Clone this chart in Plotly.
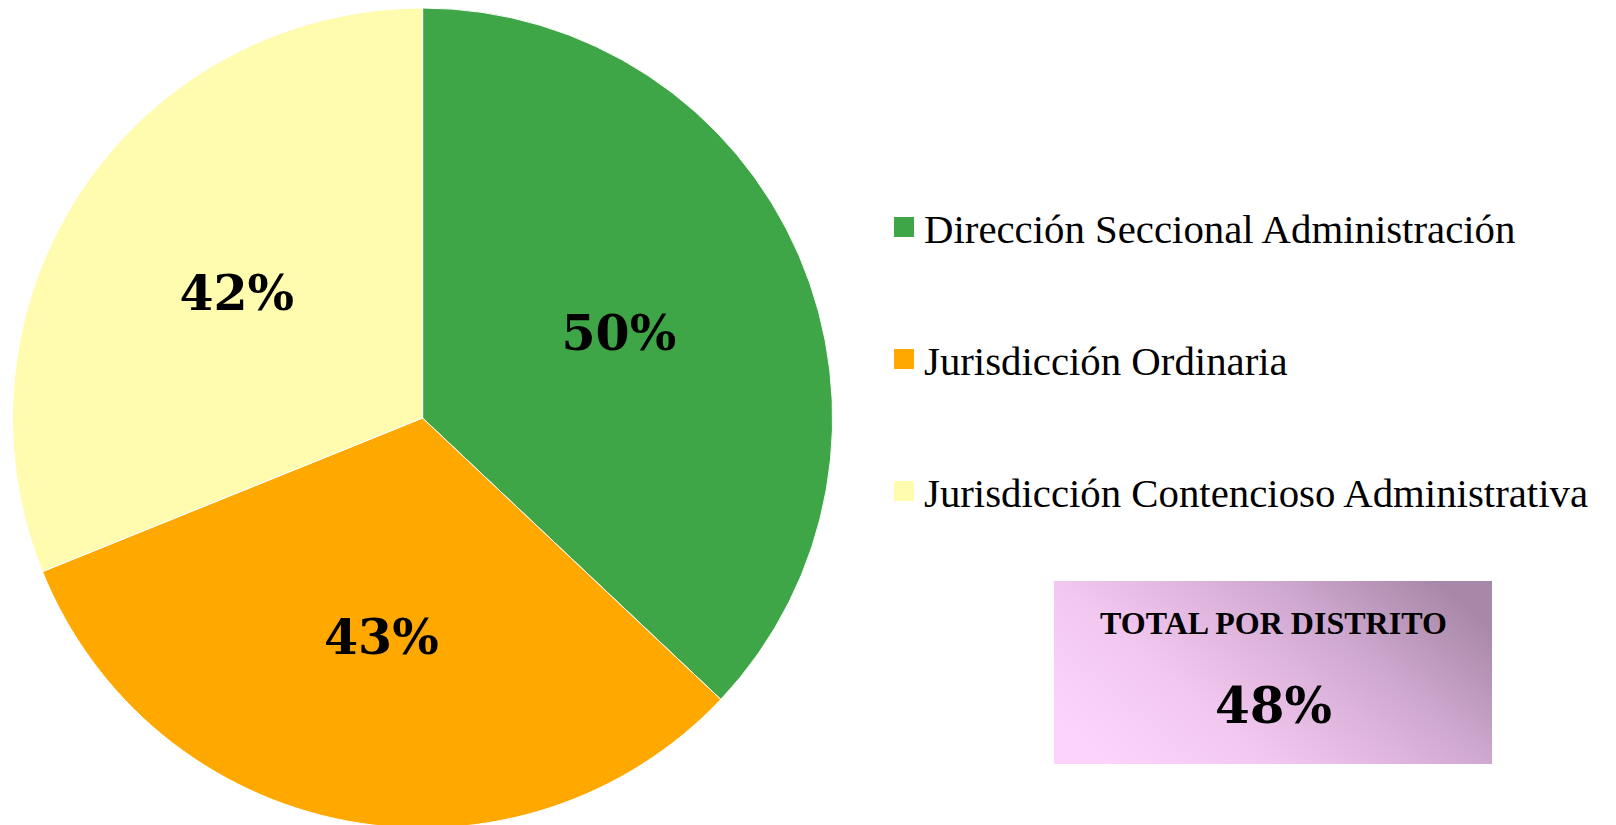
import base64
import plotly.graph_objects as go

categories = ["Dirección Seccional Administración", "Jurisdicción Ordinaria",
              "Jurisdicción Contencioso Administrativa"]
values = [50, 43, 42]
colors = ["#3EA646", "#FEA800", "#FFFBAF"]
total_label = "TOTAL POR DISTRITO"
total_value = 48

W, H = 1616, 825

fig = go.Figure()
fig.add_trace(go.Pie(
    labels=categories, values=values, sort=False, direction="clockwise", rotation=0,
    marker=dict(colors=colors, line=dict(color="#ffffff", width=1)),
    texttemplate="%{value}%", textposition="inside", insidetextorientation="horizontal",
    textfont=dict(family="DejaVu Serif", size=49, color="black", weight="bold"),
    domain=dict(x=[4.6 / W, 824.6 / W], y=[0.006, 1]),
    showlegend=False, hoverinfo="label+value",
))

for name, col in zip(categories, colors):
    fig.add_trace(go.Scatter(
        x=[None], y=[None], mode="markers", name=name, legendgroup=name,
        marker=dict(symbol="square", size=16, color=col, line=dict(color=col, width=4)),
        showlegend=True,
    ))

svg = ("<svg xmlns='http://www.w3.org/2000/svg' width='438' height='184' preserveAspectRatio='none'>"
       "<defs><linearGradient id='g' x1='0' y1='0.75' x2='1' y2='0.25'>"
       "<stop offset='0' stop-color='#FBD3FB'/><stop offset='0.3' stop-color='#F2C8F0'/>"
       "<stop offset='0.5' stop-color='#E2B8E0'/><stop offset='0.7' stop-color='#CFA8CF'/>"
       "<stop offset='1' stop-color='#A888A8'/></linearGradient></defs>"
       "<rect width='100%' height='100%' fill='url(#g)'/></svg>")
src = "data:image/svg+xml;base64," + base64.b64encode(svg.encode()).decode()

bx0, bx1, by0, by1 = 1046 / W, 1484 / W, 1 - 756 / H, 1 - 573 / H
fig.add_layout_image(dict(source=src, xref="paper", yref="paper", x=bx0, y=by1,
                          sizex=bx1 - bx0, sizey=by1 - by0, sizing="stretch",
                          xanchor="left", yanchor="top", layer="above"))

fig.add_annotation(x=(bx0 + bx1) / 2, y=1 - 615 / H, xref="paper", yref="paper",
                   xanchor="center", yanchor="middle",
                   text="<b>" + total_label + "</b>", showarrow=False,
                   font=dict(family="Liberation Serif", size=32, color="black"))
fig.add_annotation(x=(bx0 + bx1) / 2, y=1 - 697 / H, xref="paper", yref="paper",
                   xanchor="center", yanchor="middle",
                   text="<b>%d%%</b>" % total_value, showarrow=False,
                   font=dict(family="DejaVu Serif", size=50, color="black"))

fig.update_layout(
    width=W, height=H,
    margin=dict(l=0, r=0, t=0, b=0),
    paper_bgcolor="white", plot_bgcolor="white",
    xaxis=dict(visible=False), yaxis=dict(visible=False),
    legend=dict(x=876 / W, xanchor="left", y=1 - 186 / H, yanchor="top",
                font=dict(family="Liberation Serif", size=40.8, color="black"),
                tracegroupgap=76, bgcolor="rgba(0,0,0,0)", itemsizing="trace"),
)

fig.write_html("out.html")
